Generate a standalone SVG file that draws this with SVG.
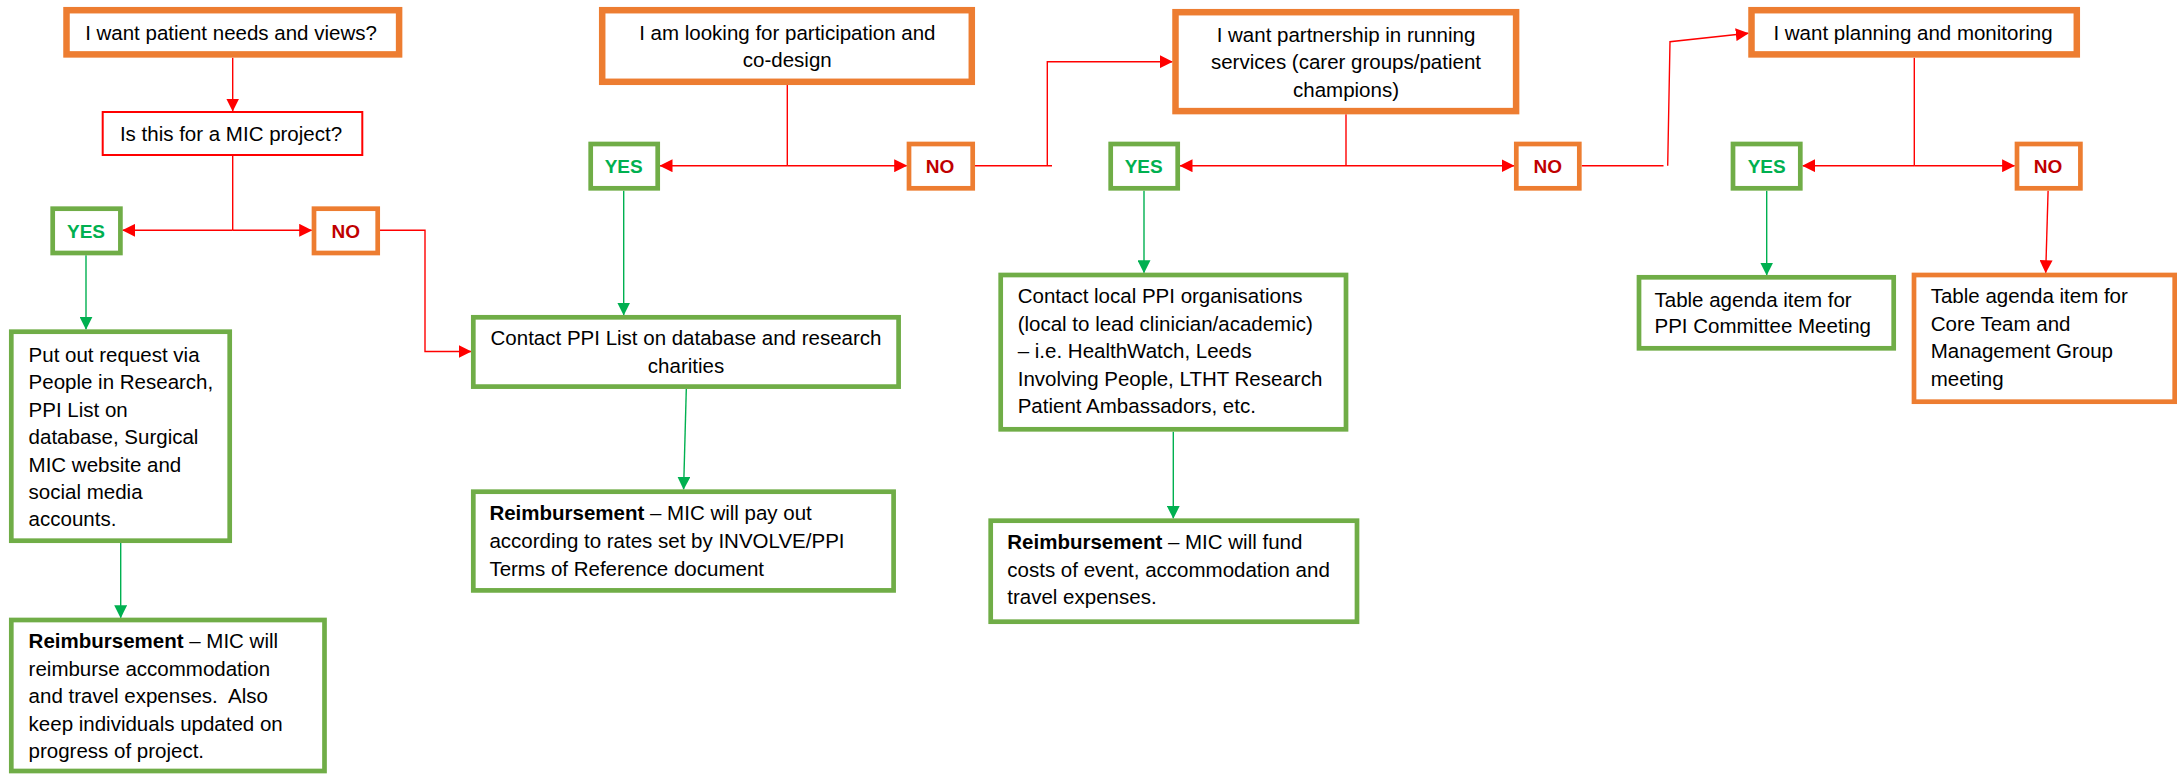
<svg xmlns="http://www.w3.org/2000/svg" width="2177" height="774" viewBox="0 0 2177 774">
<style>
text{font-family:"Liberation Sans",Arial,sans-serif;font-size:20.5px;fill:#000}
.c{text-anchor:middle}
.yes{font-weight:bold;font-size:19px;fill:#00B050;text-anchor:middle}
.no{font-weight:bold;font-size:19px;fill:#C00000;text-anchor:middle}
.q{fill:#fff;stroke:#ED7D31;stroke-width:6.5}
.o{fill:#fff;stroke:#ED7D31;stroke-width:4.7}
.g{fill:#fff;stroke:#70AD47;stroke-width:4.7}
.r{fill:#fff;stroke:#FF0000;stroke-width:2}
.lr{fill:none;stroke:#FF0000;stroke-width:1.4}
.lg{fill:none;stroke:#00B050;stroke-width:1.4}
.ar{marker-end:url(#ah-r)}
.ag{marker-end:url(#ah-g)}
</style>
<defs>
<marker id="ah-r" markerUnits="userSpaceOnUse" markerWidth="13" markerHeight="13" refX="12.5" refY="6.5" orient="auto"><path d="M0,0 L13,6.5 L0,13 z" fill="#FF0000"/></marker>
<marker id="ah-g" markerUnits="userSpaceOnUse" markerWidth="13" markerHeight="13" refX="12.5" refY="6.5" orient="auto"><path d="M0,0 L13,6.5 L0,13 z" fill="#00B050"/></marker>
</defs>
<rect width="2177" height="774" fill="#fff"/>

<g id="connectors">
<path class="lr ar" d="M232.7,57.7 V111"/>
<path class="lr" d="M232.7,156 V230.3"/>
<path class="lr ar" d="M232.7,230.3 H122.7"/>
<path class="lr ar" d="M232.7,230.3 H311.7"/>
<path class="lr ar" d="M380,230.3 H425 V351.5 H471"/>
<path class="lg ag" d="M86,255.3 V329.3"/>
<path class="lg ag" d="M120.7,543 V617.7"/>

<path class="lr" d="M787.3,85 V165.7"/>
<path class="lr ar" d="M787.3,165.7 H660"/>
<path class="lr ar" d="M787.3,165.7 H906.7"/>
<path class="lr" d="M975,165.7 H1052"/>
<path class="lr ar" d="M1047.3,165.7 V61.7 H1172.3"/>
<path class="lg ag" d="M623.7,190.7 V315"/>
<path class="lg ag" d="M686.3,389 L683.6,489.3"/>

<path class="lr" d="M1346,114.3 V165.7"/>
<path class="lr ar" d="M1346,165.7 H1180"/>
<path class="lr ar" d="M1346,165.7 H1514"/>
<path class="lg ag" d="M1144,190.7 V272.7"/>
<path class="lg ag" d="M1173.3,431.7 V518.3"/>
<path class="lr" d="M1581.7,165.7 H1663.5"/>
<path class="lr ar" d="M1667.7,165.7 L1670,41.7 L1748.3,33.3"/>

<path class="lr" d="M1914.3,57.7 V165.7"/>
<path class="lr ar" d="M1914.3,165.7 H1802.7"/>
<path class="lr ar" d="M1914.3,165.7 H2014.6"/>
<path class="lg ag" d="M1766.7,190.7 V275"/>
<path class="lr ar" d="M2048.1,190.7 L2045.7,272.7"/>
</g>

<g id="q-needs">
<rect class="q" x="66.5" y="10.2" width="332.6" height="44.2"/>
<text class="c" x="231" y="40">I want patient needs and views?</text>
</g>
<g id="q-mic">
<rect class="r" x="102.7" y="112" width="259.6" height="43"/>
<text class="c" x="231" y="140.7">Is this for a MIC project?</text>
</g>
<g id="yes1">
<rect class="g" x="52.7" y="208.7" width="67.7" height="44.3"/>
<text class="yes" x="86" y="238.3">YES</text>
</g>
<g id="no1">
<rect class="o" x="314" y="208.7" width="63.7" height="44.3"/>
<text class="no" x="345.7" y="238.3">NO</text>
</g>
<g id="put-out">
<rect class="g" x="11.3" y="331.7" width="218.4" height="209"/>
<text x="28.6" y="361.7">Put out request via</text>
<text x="28.6" y="389.3">People in Research,</text>
<text x="28.6" y="416.7">PPI List on</text>
<text x="28.6" y="444">database, Surgical</text>
<text x="28.6" y="471.7">MIC website and</text>
<text x="28.6" y="499">social media</text>
<text x="28.6" y="526">accounts.</text>
</g>
<g id="reimb1">
<rect class="g" x="11.3" y="620" width="313.2" height="151"/>
<text x="28.6" y="648.3"><tspan font-weight="bold">Reimbursement</tspan> – MIC will</text>
<text x="28.6" y="676">reimburse accommodation</text>
<text x="28.6" y="703.3" style="white-space:pre">and travel expenses.  Also</text>
<text x="28.6" y="730.7">keep individuals updated on</text>
<text x="28.6" y="758.3">progress of project.</text>
</g>

<g id="q-participation">
<rect class="q" x="602.2" y="10.2" width="369.6" height="71.6"/>
<text class="c" x="787.3" y="40">I am looking for participation and</text>
<text class="c" x="787.3" y="66.7">co-design</text>
</g>
<g id="yes2">
<rect class="g" x="590.7" y="144" width="67" height="44.3"/>
<text class="yes" x="623.7" y="173.3">YES</text>
</g>
<g id="no2">
<rect class="o" x="909" y="144" width="63.7" height="44.3"/>
<text class="no" x="940" y="173.3">NO</text>
</g>
<g id="contact-ppi">
<rect class="g" x="473.3" y="317.3" width="425.3" height="69.3"/>
<text class="c" x="686" y="345">Contact PPI List on database and research</text>
<text class="c" x="686" y="372.7">charities</text>
</g>
<g id="reimb2">
<rect class="g" x="473.3" y="491.7" width="420.3" height="98.7"/>
<text x="489.4" y="520"><tspan font-weight="bold">Reimbursement</tspan> – MIC will pay out</text>
<text x="489.4" y="548">according to rates set by INVOLVE/PPI</text>
<text x="489.4" y="576">Terms of Reference document</text>
</g>

<g id="q-partnership">
<rect class="q" x="1175.5" y="12.2" width="340.6" height="98.9"/>
<text class="c" x="1346" y="41.7">I want partnership in running</text>
<text class="c" x="1346" y="69">services (carer groups/patient</text>
<text class="c" x="1346" y="96.7">champions)</text>
</g>
<g id="yes3">
<rect class="g" x="1110.7" y="144" width="67" height="44.3"/>
<text class="yes" x="1143.7" y="173.3">YES</text>
</g>
<g id="no3">
<rect class="o" x="1516.3" y="144" width="63" height="44.3"/>
<text class="no" x="1547.7" y="173.3">NO</text>
</g>
<g id="contact-local">
<rect class="g" x="1000.7" y="275" width="345.3" height="154.3"/>
<text x="1017.7" y="303.3">Contact local PPI organisations</text>
<text x="1017.7" y="331">(local to lead clinician/academic)</text>
<text x="1017.7" y="358.3">– i.e. HealthWatch, Leeds</text>
<text x="1017.7" y="386">Involving People, LTHT Research</text>
<text x="1017.7" y="413.3">Patient Ambassadors, etc.</text>
</g>
<g id="reimb3">
<rect class="g" x="990.7" y="520.7" width="366.3" height="101"/>
<text x="1007.3" y="549"><tspan font-weight="bold">Reimbursement</tspan> – MIC will fund</text>
<text x="1007.3" y="576.7">costs of event, accommodation and</text>
<text x="1007.3" y="604">travel expenses.</text>
</g>

<g id="q-planning">
<rect class="q" x="1751.5" y="10.2" width="325.3" height="44.2"/>
<text class="c" x="1913" y="40">I want planning and monitoring</text>
</g>
<g id="yes4">
<rect class="g" x="1733" y="144" width="67.3" height="44.3"/>
<text class="yes" x="1766.7" y="173.3">YES</text>
</g>
<g id="no4">
<rect class="o" x="2017" y="144" width="63.4" height="44.3"/>
<text class="no" x="2048" y="173.3">NO</text>
</g>
<g id="ppi-committee">
<rect class="g" x="1639" y="277.3" width="254.7" height="71"/>
<text x="1654.5" y="306.7">Table agenda item for</text>
<text x="1654.5" y="333.3">PPI Committee Meeting</text>
</g>
<g id="core-team">
<rect class="o" x="1914" y="275" width="260.7" height="126.7"/>
<text x="1930.7" y="303">Table agenda item for</text>
<text x="1930.7" y="331">Core Team and</text>
<text x="1930.7" y="358">Management Group</text>
<text x="1930.7" y="386">meeting</text>
</g>
</svg>
